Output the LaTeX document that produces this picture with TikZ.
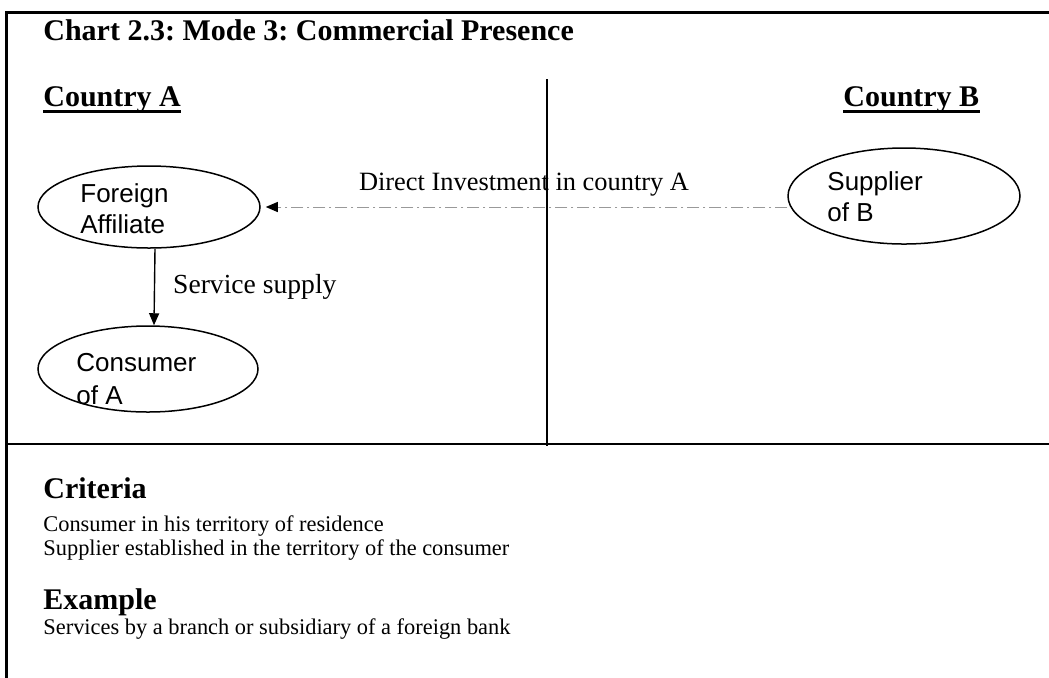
\documentclass[tikz,border=0pt]{standalone}
\usepackage{fontspec}
\setmainfont{Liberation Serif}
\setsansfont{Liberation Sans}
\usetikzlibrary{arrows.meta, positioning, shapes.geometric, calc}
\frenchspacing

\begin{document}
\begin{tikzpicture}[
    x=0.5pt, y=-0.5pt,
    frame/.style={line width=1.5pt, line cap=rect},
    divider/.style={line width=0.9pt},
    party/.style={draw, ellipse, line width=0.75pt, inner sep=0pt},
    ptext/.style={font=\sffamily\fontsize{13}{15.5}\selectfont, align=left, anchor=north west, inner sep=0pt},
    head/.style={font=\bfseries\fontsize{15}{18}\selectfont, anchor=base west, inner sep=0pt},
    body/.style={font=\fontsize{11.2}{14}\selectfont, anchor=base west, inner sep=0pt},
    uline/.style={line width=1.4pt},
    flow/.style={-{Triangle[length=6pt, width=5pt]}, line width=0.7pt},
    invest/.style={-{Triangle[length=6pt, width=5pt, color=black]}, line width=0.5pt, black!40,
        dash pattern=on 6pt off 2pt on 1pt off 2pt},
    elabel/.style={font=\fontsize{13.2}{15}\selectfont, inner sep=0pt},
]
\useasboundingbox (0,0) rectangle (1049,677);

% Frame and dividers
\draw[frame] (1049,12) -- (6,12) -- (6,677);
\coordinate (midtop) at (547,79);
\coordinate (midbot) at (547,446);
\coordinate (rowL) at (5,444);
\coordinate (rowR) at (1049,444);
\draw[divider] (midtop) -- (midbot);
\draw[divider] (rowL) -- (rowR);

% Headings
\node[head] (title) at (43,40) {Chart 2.3: Mode 3: Commercial Presence};
\node[head] (ctryA) at (43,106) {Country A};
\node[head] (ctryB) at (843,106) {Country B};
\draw[uline] ([yshift=-2.6pt]ctryA.base west) -- ([yshift=-2.6pt]ctryA.base east);
\draw[uline] ([yshift=-2.6pt]ctryB.base west) -- ([yshift=-2.6pt]ctryB.base east);

% Parties
\node[party, minimum width=111pt, minimum height=41pt] (fa) at (149,207) {};
\node[party, minimum width=116pt, minimum height=48pt] (sb) at (904,196) {};
\node[party, minimum width=110pt, minimum height=43pt] (ca) at (148,369) {};
\node[ptext] (fatext) at ($(fa.center)+(-69,-24)$) {Foreign\\Affiliate};
\node[ptext] (sbtext) at ($(sb.center)+(-77,-25)$) {Supplier\\of B};
\node[ptext, font=\sffamily\fontsize{13}{16.5}\selectfont] (catext) at ($(ca.center)+(-72,-16)$) {Consumer\\of A};

% Arrows
\draw[invest, shorten >=2.5pt] (sb.west |- fa.east) -- (fa.east)
    node[elabel, midway, above=5pt, text=black] {Direct Investment in country A};
\draw[flow] ([xshift=3pt]fa.south) -- ([xshift=3pt]ca.north)
    node[elabel, midway, right=9pt, font=\fontsize{13.8}{15}\selectfont] {Service supply};

% Criteria and example
\node[head] (crit) at (43,498) {Criteria};
\node[body] (crit1) at (43,531) {Consumer in his territory of residence};
\node[body] (crit2) at (43,555) {Supplier established in the territory of the consumer};
\node[head] (exmp) at (43,609) {Example};
\node[body] (exmp1) at (43,634) {Services by a branch or subsidiary of a foreign bank};

\end{tikzpicture}
\end{document}
